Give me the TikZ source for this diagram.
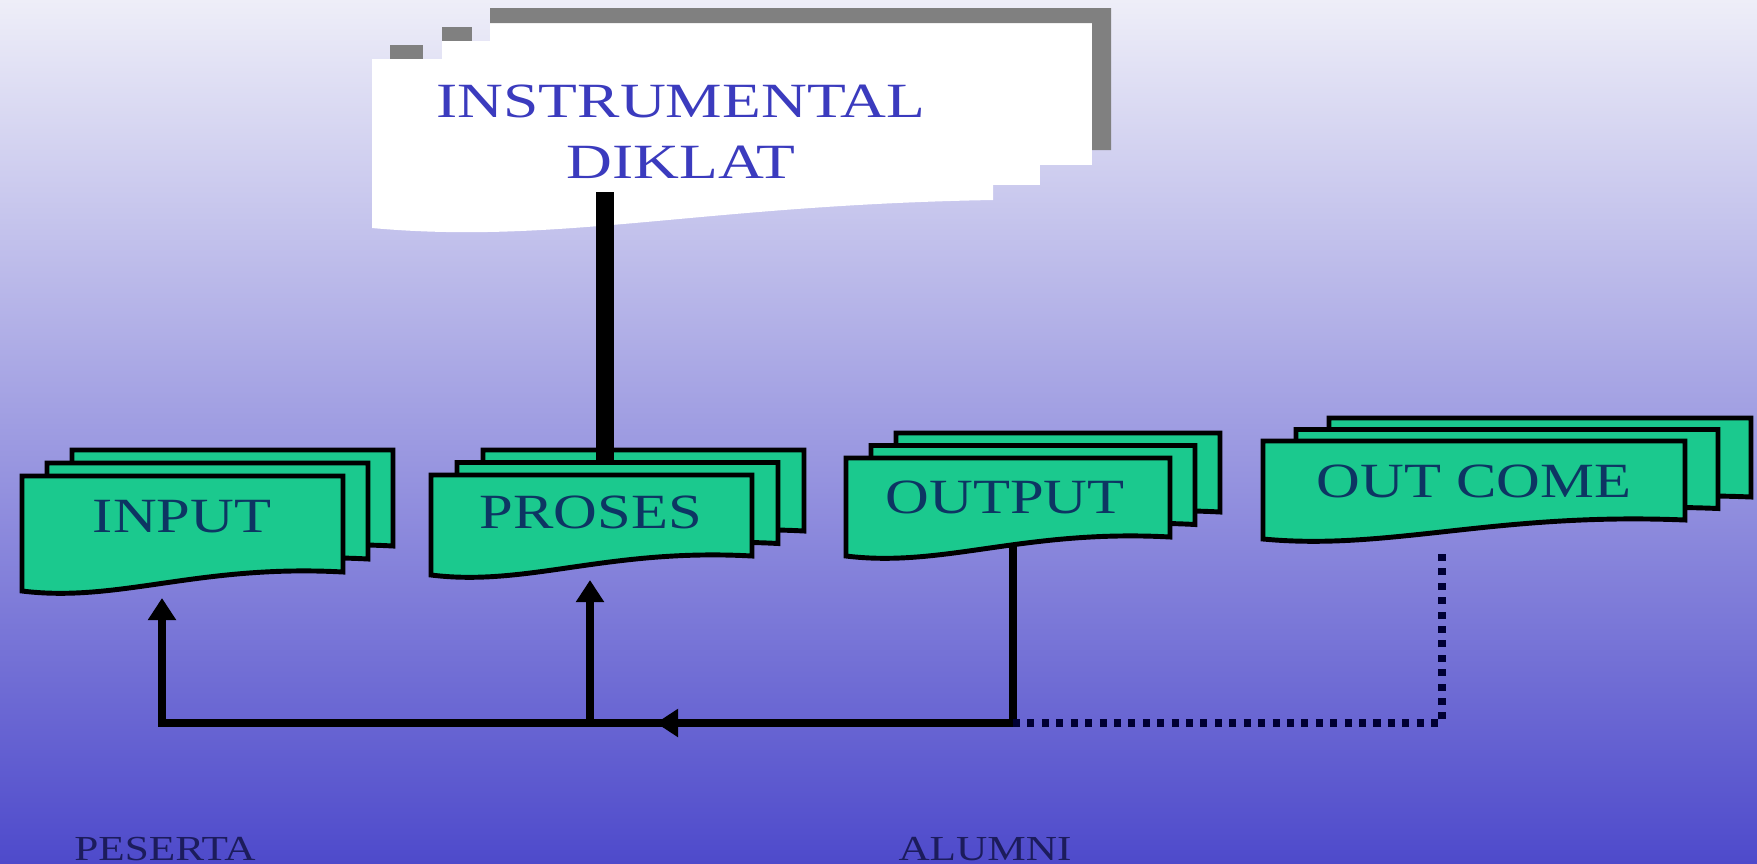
\documentclass[tikz,border=0pt]{standalone}
\usepackage{graphicx}
\usepackage{fontspec}
\setmainfont{Liberation Serif}
\usetikzlibrary{arrows.meta}
\definecolor{bgTop}{HTML}{EEEEF8}
\definecolor{bgMid}{HTML}{AFACE2}
\definecolor{bgBot}{HTML}{4E4ACB}
\definecolor{docGreen}{HTML}{1BC98E}
\definecolor{docInk}{HTML}{0D3563}
\definecolor{instInk}{HTML}{3B3BBE}
\definecolor{noteInk}{HTML}{1C1C5C}
\definecolor{shadowGray}{HTML}{808080}
\newcommand{\widetext}[1]{\scalebox{1.23}[1]{#1}}
\newcommand{\widertext}[1]{\scalebox{1.29}[1]{#1}}
% one sheet: left, top, width, height at the right edge
\newcommand{\docsheet}[4]{%
  \filldraw[sheet] (#1,#2) -- ({#1+#3},#2) -- ({#1+#3},{#2+#4})
    .. controls ({#1+0.55*#3},{#2+#4-8}) and ({#1+0.3*#3},{#2+#4+31}) ..
    (#1,{#2+#4+19}) -- cycle;}
\newcommand{\docstack}[6]{%
  \foreach \k in {2,1,0}{%
    \pgfmathsetmacro{\sx}{#1+\k*(#5)}%
    \pgfmathsetmacro{\sy}{#2+\k*(#6)}%
    \docsheet{\sx}{\sy}{#3}{#4}}}
\tikzset{
  sheet/.style={fill=docGreen, draw=black, line width=1.4pt, line join=miter},
  box label/.style={font=\fontsize{14}{17}\selectfont, text=docInk, inner sep=0pt},
  inst label/.style={font=\fontsize{14}{17.4}\selectfont, text=instInk,
    align=center, inner sep=0pt},
  note label/.style={font=\fontsize{10}{12}\selectfont, text=noteInk, inner sep=0pt},
  flow line/.style={draw=black, line width=2.3pt, line join=miter},
  flow arrow/.style={flow line, -{Triangle[length=6.3pt,width=7.7pt]}},
  flow dots/.style={draw=black!80!blue, line width=2.2pt, dash pattern=on 2pt off 2.1pt},
  stem/.style={draw=black, line width=5pt, line cap=butt}
}

\begin{document}
\begin{tikzpicture}[x=0.01cm,y=-0.01cm]
  \useasboundingbox (0,0) rectangle (1757,863);
  \shade[top color=bgTop, middle color=bgMid, bottom color=bgBot] (0,0) rectangle (1757,863);

  % instrumental sheets
  \fill[white] (490,23) rectangle (1092,165);
  \fill[shadowGray] (490,8) -- (1111,8) -- (1111,150) -- (1092,150) -- (1092,23) -- (490,23) -- cycle;
  \fill[white] (442,41) rectangle (1040,185);
  \fill[shadowGray] (442,27) rectangle (472,41);
  \fill[shadowGray] (390,45) rectangle (423,59);
  \fill[white] (372,59) -- (993,59) -- (993,200) .. controls (700,205) and (560,245) .. (372,228) -- cycle;

  \docstack{22}{476}{321}{96}{25}{-13}
  \docstack{431}{475}{321}{81}{26}{-12.5}
  \docstack{846}{458}{324}{79}{25}{-12.5}
  \docstack{1263}{441}{422}{79}{33}{-11.5}

  \coordinate (instr-foot) at (605,192);
  \coordinate (proses-top) at (605,462);
  \coordinate (input-in) at (162,598);
  \coordinate (proses-in) at (590,580);
  \coordinate (output-foot) at (1013,543);
  \coordinate (outcome-foot) at (1442,552);
  \coordinate (loop-left) at (162,723);
  \coordinate (loop-join) at (590,723);
  \coordinate (loop-mid) at (656,723);
  \coordinate (loop-right) at (1013,723);
  \coordinate (loop-far) at (1442,723);

  \draw[stem] (instr-foot) -- (proses-top);
  \draw[flow arrow] (output-foot) -- (loop-right) -- (loop-left) -- (input-in);
  \draw[flow arrow] (loop-join) -- (proses-in);
  \draw[flow arrow] (loop-right) -- (loop-mid);
  \draw[flow dots] (loop-right) -- (loop-far) -- (outcome-foot);

  \node[inst label] (instr) at (681,132) {\widertext{INSTRUMENTAL}\\\widertext{DIKLAT}};
  \node[box label] (input) at (182,517) {\widetext{INPUT}};
  \node[box label] (proses) at (591,512) {\widetext{PROSES}};
  \node[box label] (output) at (1005,497) {\widetext{OUTPUT}};
  \node[box label] (outcome) at (1474,481) {\widetext{OUT COME}};
  \node[note label, anchor=base] (peserta) at (165,860) {\widetext{PESERTA}};
  \node[note label, anchor=base] (alumni) at (985,860) {\widetext{ALUMNI}};
\end{tikzpicture}
\end{document}
